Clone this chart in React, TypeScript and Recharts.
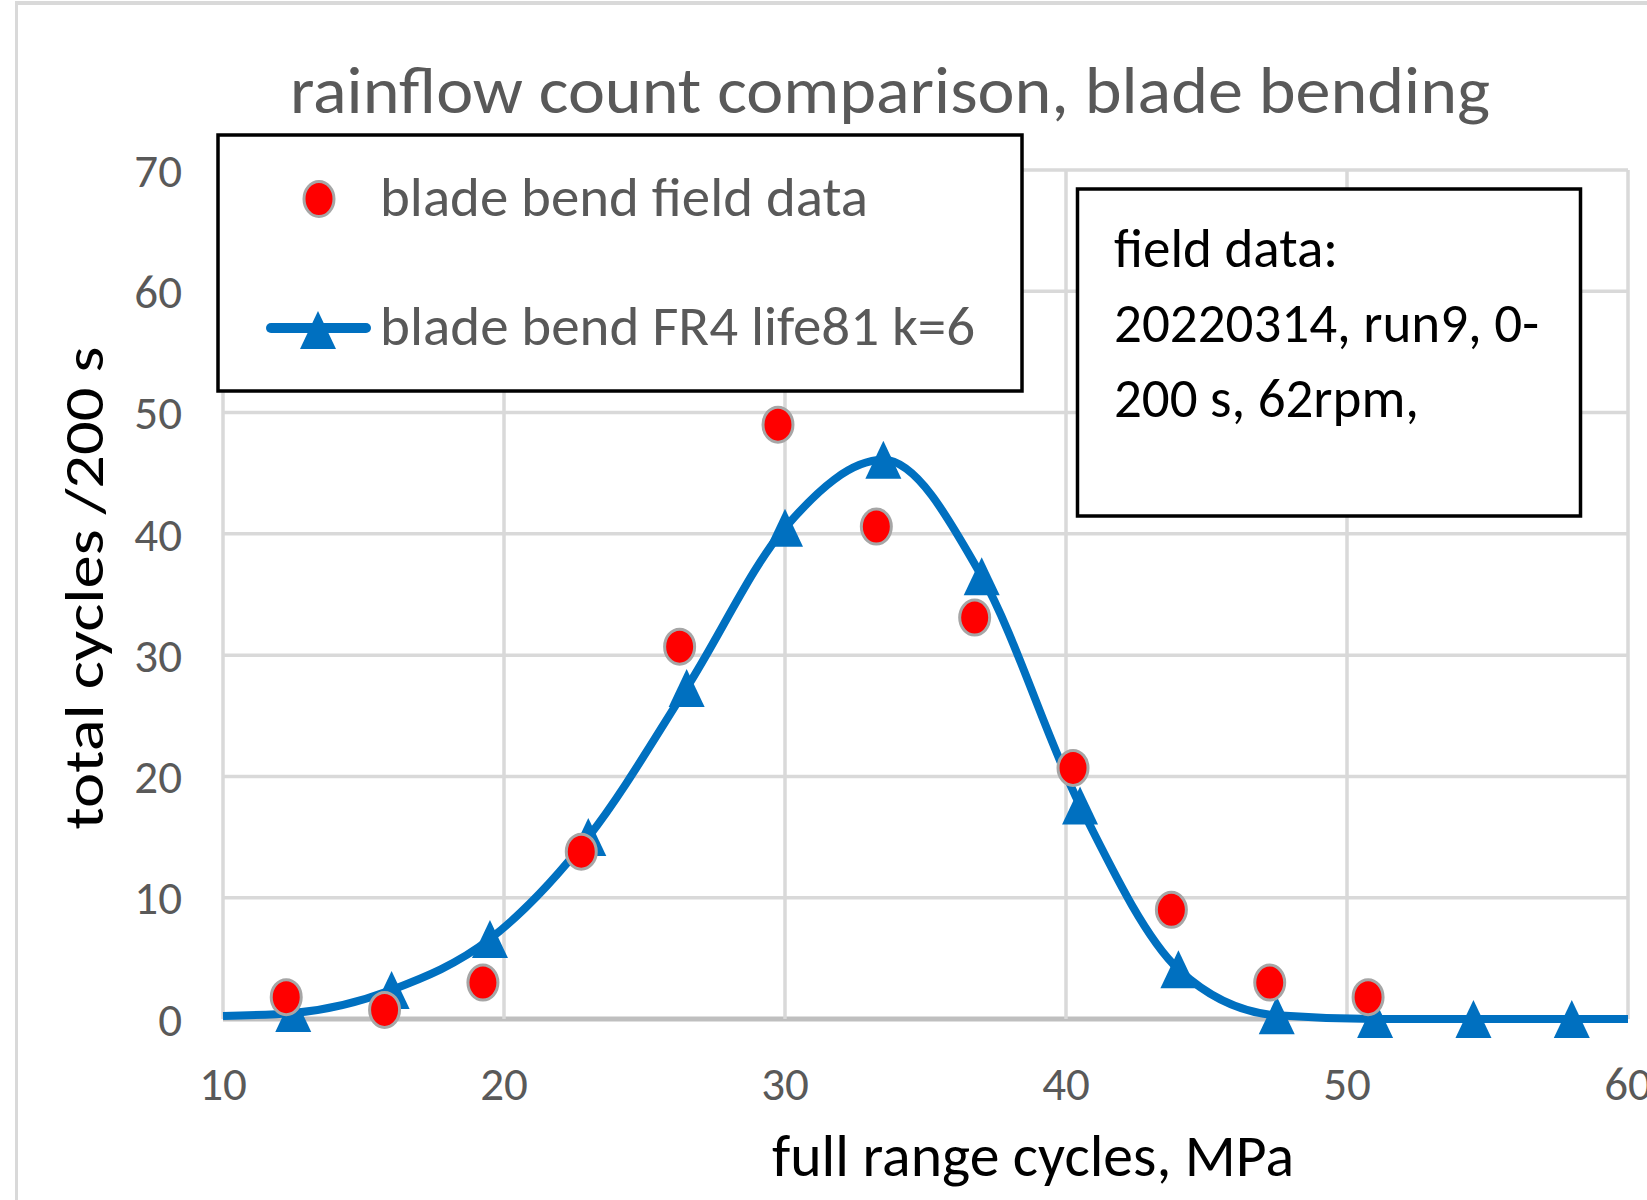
import React from 'react'
import { ComposedChart, Line, Scatter, XAxis, YAxis, CartesianGrid } from 'recharts'

const chartTitle = 'rainflow count comparison, blade bending'
const xTitle = 'full range cycles, MPa'
const yTitle = 'total cycles /200 s'
const seriesNames = ['blade bend field data', 'blade bend FR4 life81 k=6']
const noteLines = ['field data:', '20220314, run9, 0-', '200 s, 62rpm,']

const xTicks = [10, 20, 30, 40, 50, 60]
const yTicks = [0, 10, 20, 30, 40, 50, 60, 70]

// measured rainflow counts (red dots)
const fieldX = [12.25, 15.75, 19.25, 22.75, 26.25, 29.75, 33.25, 36.75, 40.25, 43.75, 47.25, 50.75]
const fieldY = [1.8, 0.75, 3.0, 13.8, 30.7, 49.0, 40.6, 33.1, 20.7, 9.0, 3.0, 1.8]

// model curve (blue triangles)
const fitX = [12.5, 16, 19.5, 23, 26.5, 30, 33.5, 37, 40.5, 44, 47.5, 51, 54.5, 58]
const fitY = [0.5, 2.4, 6.6, 15, 27.3, 40.5, 46.1, 36.5, 17.6, 4.1, 0.3, 0, 0, 0]
// where the smoothed curve meets the plot edges
const fitStartY = 0.25
const fitEndY = 0

const X_MIN = xTicks[0]
const X_MAX = xTicks[xTicks.length - 1]
const BLUE = '#0070c0'
const RED = '#ff0000'
const GREY_TEXT = '#595959'
const FONT = "Carlito, 'Liberation Sans', Arial, sans-serif"

const fieldData = fieldX.map((x, i) => ({ x, y: fieldY[i] }))
const fitData = [
  { x: X_MIN, y: fitStartY },
  ...fitX.map((x, i) => ({ x, y: fitY[i] })),
  { x: X_MAX, y: fitEndY },
]

const trianglePath = (cx: number, cy: number) =>
  `M${cx},${cy - 19} L${cx + 18},${cy + 19} L${cx - 18},${cy + 19} Z`

const TriangleDot = (props: any) => {
  const { cx, cy, payload, index } = props
  if (payload.x <= X_MIN || payload.x >= X_MAX) return <g key={`tri-${index}`} />
  return <path key={`tri-${index}`} d={trianglePath(cx, cy)} fill={BLUE} />
}

const RedDot = (props: any) => (
  <ellipse cx={props.cx} cy={props.cy} rx={15} ry={17.5} fill={RED} stroke="#a6a6a6" strokeWidth={3} />
)

// grid lines; the first one (value 0) doubles as the darker category axis line
const GridLine = (props: any) => {
  const { x1, y1, x2, y2, index } = props
  const isAxis = index === 0
  return (
    <line
      key={`h-${index}`}
      x1={x1}
      y1={y1}
      x2={x2}
      y2={y2}
      stroke={isAxis ? '#bfbfbf' : '#d9d9d9'}
      strokeWidth={isAxis ? 5 : 3.5}
    />
  )
}

export default function App() {
  const tickStyle = { fill: GREY_TEXT, fontSize: 47, fontFamily: FONT }

  return (
    <div style={{ position: 'absolute', left: 0, top: 0, width: 1647, height: 1200, overflow: 'hidden', background: '#fff' }}>
      <div
        style={{
          position: 'absolute', left: 15, top: 1, width: 1700, height: 1300,
          borderLeft: '3px solid #d9d9d9', borderTop: '4px solid #d9d9d9',
        }}
      />
      <div style={{ position: 'absolute', left: 0, top: 0 }}>
        <ComposedChart width={1700} height={1200} margin={{ top: 170, right: 72, bottom: 101, left: 0 }}>
          <CartesianGrid stroke="#d9d9d9" strokeWidth={3.5} horizontal={GridLine} />
          <XAxis
            type="number"
            dataKey="x"
            domain={[X_MIN, X_MAX]}
            ticks={xTicks}
            interval={0}
            height={80}
            axisLine={false}
            tickLine={false}
            tickSize={0}
            tickMargin={48}
            tick={tickStyle}
          />
          <YAxis
            type="number"
            dataKey="y"
            domain={[0, 70]}
            ticks={yTicks}
            interval={0}
            width={223}
            axisLine={false}
            tickLine={false}
            tickSize={0}
            tickMargin={41}
            tick={tickStyle}
          />
          <Line
            data={fitData}
            dataKey="y"
            name={seriesNames[1]}
            type="monotone"
            stroke={BLUE}
            strokeWidth={8}
            dot={TriangleDot}
            activeDot={false}
            isAnimationActive={false}
          />
          <Scatter
            data={fieldData}
            dataKey="y"
            name={seriesNames[0]}
            fill={RED}
            shape={RedDot}
            isAnimationActive={false}
          />
        </ComposedChart>
      </div>

      <svg width={1647} height={1200} style={{ position: 'absolute', left: 0, top: 0, pointerEvents: 'none' }} fontFamily={FONT}>
        <text x={290} y={113} fontSize={66} fill={GREY_TEXT} textLength={1200} lengthAdjust="spacingAndGlyphs">
          {chartTitle}
        </text>

        <text
          transform="translate(103,588) rotate(-90)"
          textAnchor="middle"
          fontSize={56}
          fill="#000"
          textLength={483}
          lengthAdjust="spacingAndGlyphs"
        >
          {yTitle}
        </text>
        <text x={772} y={1176} fontSize={59} fill="#000" textLength={522} lengthAdjust="spacingAndGlyphs">
          {xTitle}
        </text>

        {/* legend */}
        <rect x={218} y={135} width={804} height={256} fill="#fff" stroke="#000" strokeWidth={3.5} />
        <ellipse cx={319} cy={199} rx={15} ry={17.5} fill={RED} stroke="#a6a6a6" strokeWidth={3} />
        <text x={380} y={216} fontSize={56} fill={GREY_TEXT} textLength={488} lengthAdjust="spacingAndGlyphs">
          {seriesNames[0]}
        </text>
        <line x1={271} y1={328} x2={366} y2={328} stroke={BLUE} strokeWidth={10} strokeLinecap="round" />
        <path d={trianglePath(318, 330)} fill={BLUE} />
        <text x={380} y={345} fontSize={56} fill={GREY_TEXT} textLength={595} lengthAdjust="spacingAndGlyphs">
          {seriesNames[1]}
        </text>

        {/* note box */}
        <rect x={1077.5} y={189} width={503} height={327} fill="#fff" stroke="#000" strokeWidth={3.5} />
        <text x={1114} y={267} fontSize={56} fill="#000" textLength={224} lengthAdjust="spacingAndGlyphs">
          {noteLines[0]}
        </text>
        <text x={1114} y={342} fontSize={56} fill="#000" textLength={425} lengthAdjust="spacingAndGlyphs">
          {noteLines[1]}
        </text>
        <text x={1114} y={417} fontSize={56} fill="#000" textLength={305} lengthAdjust="spacingAndGlyphs">
          {noteLines[2]}
        </text>
      </svg>
    </div>
  )
}
